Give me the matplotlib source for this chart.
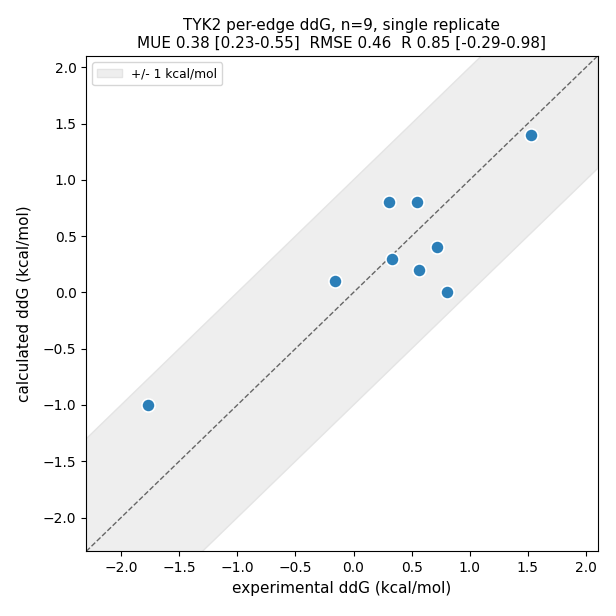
import numpy as np
import matplotlib.pyplot as plt

exp_ddg = [-1.77, -0.155, 0.305, 0.545, 0.335, 0.565, 0.715, 0.805, 1.525]
calc_ddg = [-1.0, 0.1, 0.8, 0.8, 0.3, 0.2, 0.4, 0.0, 1.4]
lims = [-2.3, 2.1]

fig, ax = plt.subplots(figsize=(6.16, 6.16), dpi=100)
xx = np.array(lims)
ax.fill_between(xx, xx - 1, xx + 1, color="#eeeeee", edgecolor="#e4e4e4", label="+/- 1 kcal/mol", zorder=0)
ax.plot(xx, xx, color="#666666", linestyle="--", linewidth=1, zorder=1)
ax.scatter(exp_ddg, calc_ddg, s=90, color="#2c7fb8", edgecolor="white", linewidth=1.2, zorder=3)
ax.set_xlim(lims)
ax.set_ylim(lims)
ax.set_xlabel("experimental ddG (kcal/mol)", fontsize=11)
ax.set_ylabel("calculated ddG (kcal/mol)", fontsize=11, labelpad=8)
ax.set_title("TYK2 per-edge ddG, n=9, single replicate\nMUE 0.38 [0.23-0.55]  RMSE 0.46  R 0.85 [-0.29-0.98]", fontsize=11)
ax.legend(loc="upper left", fontsize=8.8)
plt.subplots_adjust(left=0.14, right=0.97, top=0.909, bottom=0.105)
plt.savefig("out.png")
